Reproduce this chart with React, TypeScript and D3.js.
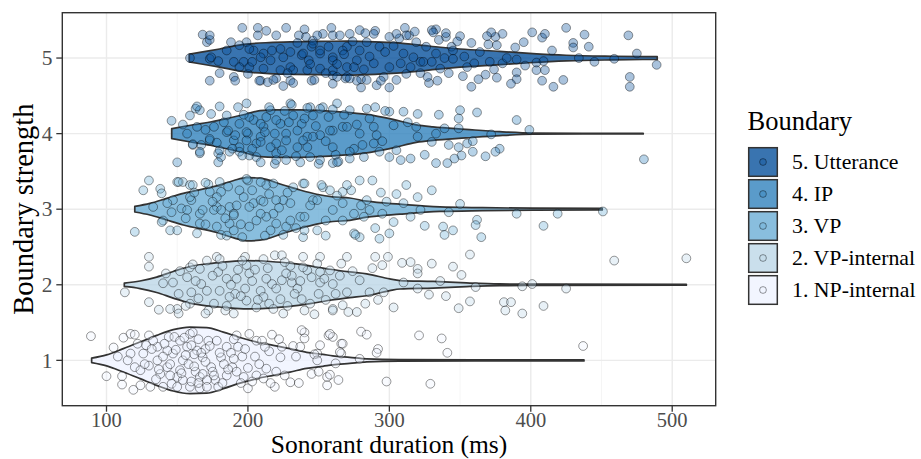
import React from "react";
import * as d3 from "d3";

// ---------- data ----------
const groupLabels = ["1. NP-internal", "2. VP-internal", "3. VP", "4. IP", "5. Utterance"];
const groupColors = ["#EFF3FF", "#BDD7E7", "#6BAED6", "#3182BD", "#08519C"];
const xTicks = [100, 200, 300, 400, 500];
const xMinorTicks = [150, 250, 350, 450];
const yTicks = [1, 2, 3, 4, 5];

// violin half-widths (in boundary units) along duration (ms)
const violinNP: [number, number][] = [[89.5,0.03],[100.1,0.073],[111.9,0.155],[123.7,0.242],[135.5,0.331],[147.2,0.406],[159,0.44],[170.8,0.434],[182.6,0.374],[194.4,0.302],[206.2,0.242],[217.9,0.198],[229.7,0.155],[241.5,0.106],[253,0.079],[260,0.06],[272,0.04],[284,0.02],[307,0.01],[360,0.008],[437.6,0.008]];
const violinVPi: [number, number][] = [[112.6,0.022],[123.7,0.05],[135.5,0.102],[147.2,0.176],[159,0.242],[170.8,0.278],[182.6,0.298],[199.1,0.32],[215.6,0.308],[229.7,0.287],[243.9,0.25],[258,0.205],[272,0.17],[284,0.145],[300.3,0.077],[307.5,0.056],[331,0.044],[354.5,0.024],[378,0.011],[410,0.008],[510,0.006]];
const violinVP: [number, number][] = [[120,0.037],[130.7,0.077],[142,0.14],[154.3,0.209],[177.9,0.308],[190,0.38],[199.1,0.419],[208.5,0.41],[225,0.32],[236.8,0.254],[248.6,0.198],[260,0.163],[272,0.148],[284,0.106],[307.5,0.066],[335.8,0.03],[366,0.02],[401.5,0.013],[450.5,0.01]];
const violinIP: [number, number][] = [[146.1,0.066],[161.4,0.117],[175,0.16],[185,0.2],[199,0.26],[208.5,0.305],[220,0.315],[236.7,0.313],[265,0.288],[284,0.254],[302.6,0.188],[319,0.116],[330.8,0.089],[354,0.057],[378,0.026],[401.5,0.008],[440,0.005],[479.5,0.005]];
const violinUtt: [number, number][] = [[158.5,0.05],[166,0.075],[180,0.12],[197,0.18],[215,0.205],[232,0.215],[250,0.22],[270,0.225],[290,0.215],[305,0.2],[320,0.175],[336,0.143],[350,0.12],[378,0.088],[399,0.062],[425,0.037],[458,0.024],[489.4,0.018]];

// jittered observations: [duration ms, vertical jitter]
const pointsNP: [number, number][] = [[89,0.32],[100,-0.21],[105,0.17],[111,-0.21],[111,-0.32],[112,0.30],[117,0.35],[120,0.34],[119,-0.39],[124,-0.33],[117,0.09],[120,-0.09],[126,0.09],[130,0.33],[130,-0.07],[131,-0.35],[136,0.18],[138,-0.18],[140,-0.35],[144,0.31],[148,0.31],[147,0.09],[150,-0.22],[146,-0.31],[154,0],[157,0.18],[159,0.35],[161,0.37],[163,-0.15],[159,-0.35],[166,-0.37],[168,0.04],[172,0.26],[174,-0.09],[177,-0.26],[178,0.26],[181,0.04],[185,0.18],[189,-0.09],[192,0.33],[193,0.18],[192,-0.15],[197,-0.22],[201,0.35],[206,0.26],[200,-0.37],[206,-0.20],[210,0.26],[211,-0.24],[213,-0.11],[217,0.34],[219,-0.35],[223,0.04],[224,0.18],[230,-0.29],[232,0.19],[237,0.18],[236,-0.30],[240,0.37],[240,0.29],[245,-0.18],[249,0.09],[256,-0.22],[256,-0.33],[257,0.33],[260,0.31],[262,-0.04],[264,-0.26],[266,0.22],[266,0.09],[136,0],[143,-0.09],[152,-0.13],[164,0.13],[166,-0.22],[152,0.26],[143,0.13],[171,-0.26],[171,-0.35],[179,-0.35],[185,-0.20],[150,-0.35],[154,-0.26],[133,0.26],[124,-0.13],[115,0],[238,0.40],[251,0.20],[258,0.35],[267,0.22],[280,0.38],[284,0.34],[292,0.15],[291,0.10],[265,0.11],[247,0.08],[249,0],[279,0.02],[321,0.33],[337,0.29],[341,0.10],[437,0.19],[250,-0.15],[258,-0.19],[298,-0.28],[329,-0.31],[140,0.05],[158,-0.05],[162,0.08],[170,0.15],[175,-0.15],[183,-0.05],[188,0.10],[196,0.05],[145,-0.20],[135,-0.25],[128,0.20],[155,0.30],[165,0.28],[190,0.28],[200,-0.10],[205,0.05],[215,0.12],[220,-0.15],[160,-0.28],[168,-0.18],[132,0.15],[137,-0.12],[141,0.22],[145,-0.05],[149,0.14],[153,-0.17],[156,0.07],[160,0.20],[162,-0.08],[165,-0.30],[167,0.10],[170,-0.02],[173,0.19],[176,-0.20],[180,0.10],[182,-0.30],[186,-0.12],[190,0.02],[195,-0.30],[198,0.15],[203,-0.28],[208,-0.05],[212,0.18],[216,-0.30],[222,0.28],[226,-0.20],[234,0.05],[127,-0.05],[122,0.22],[108,0.05]];
const pointsVPi: [number, number][] = [[130,0.37],[130,0.24],[113,-0.10],[130,-0.23],[137,-0.33],[140,0.02],[147,0.03],[151,-0.12],[150,-0.32],[151,-0.38],[159,0.23],[161,0.27],[157,0.10],[160,-0.10],[159,-0.25],[167,0.01],[171,-0.08],[172,-0.34],[170,-0.38],[178,0.37],[180,0.34],[179,0.17],[185,0.08],[192,0.08],[191,-0.12],[184,-0.34],[190,-0.38],[198,0.37],[199,0.26],[201,0.15],[198,-0.05],[199,-0.21],[209,-0.08],[206,-0.30],[211,0.34],[219,0.39],[224,0.39],[217,0.01],[223,-0.19],[225,-0.38],[231,0.03],[231,0.12],[239,0.37],[242,0.19],[238,-0.19],[240,-0.34],[251,0.37],[251,0.03],[250,-0.12],[247,-0.39],[260,0.01],[260,-0.32],[258,0.19],[266,0.28],[267,-0.27],[224,0.06],[211,-0.16],[187,-0.16],[180,-0.08],[171,0.32],[166,0.21],[145,-0.32],[270,0.37],[290,0.37],[299,0.37],[295,0.26],[309,0.29],[320,0.21],[320,0.15],[345,0.24],[351,0.13],[357,0.40],[336,0.05],[310,0.03],[320,-0.05],[328,-0.13],[361,-0.03],[394,-0.02],[401,0.01],[425,-0.05],[459,0.32],[510,0.35],[381,-0.23],[382,-0.34],[386,-0.23],[394,-0.38],[409,-0.28],[357,-0.22],[349,-0.31],[296,-0.10],[292,-0.20],[277,-0.36],[271,-0.36],[260,-0.34],[279,0.06],[270,-0.10],[286,-0.10],[251,0.17],[239,0.23],[175,0.12],[205,0.20],[215,-0.25],[235,-0.05],[245,0.10],[193,0.20],[230,0.25],[255,-0.20],[185,-0.28],[163,0.05],[213,0.08],[228,-0.28],[152,0.18],[165,-0.18],[176,-0.25],[182,0.25],[188,0.0],[195,-0.15],[203,0.05],[207,-0.20],[214,0.22],[220,-0.05],[227,0.15],[233,-0.12],[237,0.05],[244,-0.25],[249,0.28],[254,0.08],[262,-0.12],[265,0.12],[274,0.18],[283,-0.25],[288,0.22],[303,-0.30],[315,0.30],[330,0.28],[340,-0.15],[142,0.15],[156,-0.28],[196,0.32],[218,-0.32],[226,0.30]];
const pointsVP: [number, number][] = [[120,-0.30],[126,0.25],[130,0.38],[138,0.27],[139,0.21],[140,-0.15],[146,-0.04],[145,-0.28],[150,0.36],[154,0.36],[159,0.32],[160,0.12],[166,-0.06],[173,0.23],[180,0.36],[187,0.03],[194,0.25],[200,0.38],[204,0.08],[209,0.12],[213,0.32],[218,-0.06],[225,0.12],[232,0.29],[239,0.34],[246,0.12],[150,-0.28],[164,-0.32],[178,-0.23],[190,-0.28],[147,0.12],[133,0.03],[153,0.01],[178,0.03],[190,-0.06],[213,-0.10],[227,-0.23],[237,-0.10],[139,-0.17],[151,0.36],[161,0.32],[172,0.33],[181,0.23],[168,-0.01],[176,-0.01],[181,-0.01],[187,-0.19],[181,-0.34],[196,-0.37],[199,0.40],[209,0.36],[218,0.34],[201,-0.23],[209,-0.06],[211,0.10],[220,0.12],[225,-0.34],[253,0.29],[258,0.25],[249,0.12],[260,-0.01],[267,0.08],[240,-0.10],[249,-0.28],[239,-0.37],[267,-0.15],[230,-0.15],[197,0.16],[159,0.16],[157,-0.01],[166,-0.19],[178,0.16],[190,-0.08],[201,0.03],[230,0.08],[220,-0.19],[240,0.34],[252,0.32],[267,0.23],[273,0.25],[279,0.38],[288,0.38],[294,0.22],[305,0.20],[312,0.32],[320,0.16],[310,0.08],[284,0.12],[286,-0.01],[275,-0.06],[282,-0.10],[295,-0.06],[303,-0.17],[322,-0.01],[342,-0.04],[350,0.07],[390,-0.06],[419,-0.06],[451,-0.03],[409,-0.22],[362,-0.14],[361,-0.21],[338,-0.23],[339,-0.34],[365,-0.37],[325,-0.22],[300,-0.32],[293,-0.39],[279,-0.37],[275,-0.32],[240,-0.28],[276,-0.34],[143,0.08],[156,-0.12],[162,0.22],[170,-0.20],[175,0.10],[184,-0.12],[186,0.30],[192,0.05],[195,-0.20],[203,0.25],[206,-0.15],[215,0.20],[216,-0.28],[222,0.02],[228,0.22],[234,-0.25],[244,0.05],[255,-0.15],[263,0.18],[270,0.32],[280,0.05],[290,-0.25],[298,0.10],[315,-0.10],[330,0.25],[345,-0.28],[170,0.35],[185,-0.35],[212,-0.35],[255,-0.35]];
const pointsIP: [number, number][] = [[146,0.17],[154,0.12],[159,0.24],[163,0.33],[166,0.31],[164,0.09],[161,-0.15],[167,-0.15],[166,-0.26],[174,0.26],[180,0.36],[185,0.24],[179,-0.26],[181,-0.31],[179,-0.38],[185,0.02],[193,0.35],[199,0.40],[200,0],[194,-0.18],[201,-0.29],[219,-0.40],[230,0.40],[216,0.31],[223,0.13],[211,0.09],[209,-0.04],[220,-0.13],[235,-0.18],[242,-0.04],[238,0.13],[246,0.24],[244,-0.31],[237,-0.38],[227,-0.35],[206,-0.31],[190,-0.09],[173,-0.09],[157,0],[176,0.09],[194,0.13],[204,0.18],[213,0.22],[232,0.24],[227,0],[216,-0.18],[206,-0.13],[194,-0.24],[187,-0.24],[220,-0.26],[199,0.02],[244,0.35],[253,0.35],[263,0.40],[272,0.31],[284,0.33],[290,0.35],[300,0.29],[310,0.29],[320,0.26],[350,0.31],[349,0.20],[390,0.18],[399,0.05],[480,-0.34],[378,-0.20],[375,-0.24],[359,-0.24],[351,-0.29],[346,-0.33],[341,-0.39],[333,-0.39],[355,-0.13],[349,-0.18],[359,-0.10],[372,-0.01],[339,0.07],[349,0.07],[333,0],[330,-0.11],[320,-0.04],[319,0.09],[315,-0.33],[308,-0.35],[300,-0.31],[293,-0.24],[282,-0.31],[272,-0.33],[264,-0.37],[260,-0.39],[250,-0.40],[291,-0.02],[303,0.11],[289,0.09],[279,0],[267,0.09],[260,0.04],[251,-0.02],[260,-0.18],[275,-0.20],[289,-0.13],[239,-0.09],[242,-0.18],[150,-0.38],[166,-0.24],[161,-0.14],[164,0.36],[173,-0.07],[186,0.04],[180,-0.22],[189,-0.20],[196,-0.29],[209,-0.38],[220,-0.35],[231,0.38],[242,0.34],[251,0.33],[260,0.32],[201,0.22],[209,0.13],[220,0.18],[219,0],[235,0.04],[246,-0.04],[258,0.04],[270,0.09],[272,-0.24],[251,-0.35],[263,-0.38],[199,-0.09],[209,-0.11],[227,-0.09],[170,0.05],[178,-0.12],[183,0.15],[191,-0.02],[197,0.25],[203,-0.20],[212,0.02],[215,0.35],[224,-0.22],[229,0.15],[234,-0.30],[240,0.20],[248,0.10],[255,-0.10],[257,0.22],[262,-0.28],[268,0.25],[277,0.12],[281,-0.15],[286,0.20],[295,-0.10],[297,0.30],[305,-0.22],[313,0.15],[325,-0.28],[335,0.25],[342,-0.15],[362,0.28],[368,-0.30],[226,0.30]];
const pointsUtt: [number, number][] = [[425,0.40],[438,0.31],[441,0.15],[430,0.20],[430,0.14],[469,0.30],[475,0.06],[489,-0.09],[470,-0.25],[470,-0.38],[459,-0.01],[434,0],[423,-0.29],[416,-0.38],[408,-0.30],[410,-0.16],[404,-0.16],[404,-0.06],[409,-0.04],[408,0.27],[410,0.32],[401,0.34],[395,0.21],[389,0.14],[390,-0.02],[390,-0.19],[390,-0.28],[386,-0.34],[380,0.32],[375,0.28],[372,0.34],[369,0.29],[370,0.18],[376,0.17],[380,-0.07],[371,-0.05],[374,-0.15],[376,-0.26],[368,-0.22],[363,-0.28],[358,-0.38],[352,-0.24],[360,-0.07],[353,0.02],[358,0.20],[350,0.29],[344,0.15],[345,0.10],[340,0.28],[340,0.33],[333,0.38],[330,0.37],[335,0.24],[339,0],[336,-0.14],[334,-0.30],[328,-0.33],[330,-0.05],[322,-0.20],[322,-0.05],[319,0.21],[314,0.30],[311,0.40],[312,0.30],[307,0.26],[300,0.28],[300,-0.39],[291,-0.36],[290,0.36],[289,0.32],[280,-0.39],[280,-0.28],[270,-0.25],[260,-0.34],[245,-0.30],[259,0.40],[260,0.30],[265,0.30],[240,0.38],[241,0.28],[168,0.31],[171,0.21],[173,0.24],[173,-0.30],[180,-0.20],[188,0.21],[190,-0.25],[191,-0.30],[196,0.40],[199,0.21],[194,0.17],[200,-0.21],[207,0.40],[213,0.36],[207,0.30],[220,0.30],[227,0.40],[236,0.30],[209,-0.30],[214,-0.32],[220,-0.27],[225,-0.37],[230,-0.30],[232,-0.33],[173,-0.01],[190,-0.05],[197,-0.05],[204,0.10],[216,-0.03],[159,0],[179,-0.04],[230,-0.12],[243,-0.03],[238,0.04],[245,0.15],[246,0.23],[230,0.08],[225,0.01],[211,0.06],[194,-0.12],[232,-0.16],[173,0.30],[201,0.12],[209,0.01],[223,0.12],[239,0.06],[251,0.06],[260,0.01],[270,0.15],[277,-0.03],[201,-0.12],[211,-0.14],[223,-0.16],[242,-0.16],[251,-0.14],[260,-0.16],[270,-0.12],[208,-0.30],[218,-0.29],[247,-0.29],[260,-0.23],[269,-0.27],[277,-0.30],[174,0.01],[246,0.19],[251,0.10],[260,-0.03],[267,0.10],[275,-0.12],[279,0.10],[284,0.21],[289,-0.07],[293,0.15],[300,-0.12],[308,-0.07],[310,0.06],[312,-0.21],[317,0.01],[324,-0.05],[333,0.06],[345,-0.01],[263,-0.25],[272,-0.27],[284,-0.29],[296,-0.25],[305,-0.29],[253,0.32],[272,0.32],[279,0.37],[305,0.32],[331,0.34],[185,0.10],[203,-0.05],[217,0.10],[228,-0.20],[235,0.20],[244,-0.08],[249,0.30],[255,-0.20],[257,0.15],[263,-0.08],[268,0.05],[274,0.22],[282,-0.15],[286,0.02],[294,-0.30],[297,0.08],[303,0.16],[315,-0.12],[318,0.35],[326,0.15],[327,-0.25],[342,-0.20],[348,0.22],[355,-0.12],[364,0.08],[383,0.0],[396,-0.10],[415,0.10],[445,-0.05],[283,0.33]];

const violins = [violinNP, violinVPi, violinVP, violinIP, violinUtt];
const pointSets = [pointsNP, pointsVPi, pointsVP, pointsIP, pointsUtt];

// ---------- layout ----------
const W = 921;
const H = 459;
const PL = 62.3, PR = 715.7, PT = 12.7, PB = 405.7;
const FONT = "'Liberation Serif', 'DejaVu Serif', serif";

export default function App() {
  const x = d3.scaleLinear().domain([68.75, 530.75]).range([PL, PR]);
  const y = d3.scaleLinear().domain([0.4, 5.6]).range([PB, PT]);

  const violinPath = (data: [number, number][], level: number) =>
    d3
      .area<[number, number]>()
      .x((d) => x(d[0]))
      .y0((d) => y(level - d[1]))
      .y1((d) => y(level + d[1]))
      .curve(d3.curveMonotoneX)(data) || "";

  const legendOrder = [4, 3, 2, 1, 0];

  return (
    <svg
      width={W}
      height={H}
      viewBox={`0 0 ${W} ${H}`}
      style={{ position: "absolute", left: 0, top: 0, display: "block", background: "#fff" }}
      fontFamily={FONT}
    >
      <defs>
        <clipPath id="panel">
          <rect x={PL} y={PT} width={PR - PL} height={PB - PT} />
        </clipPath>
      </defs>
      <rect x={0} y={0} width={W} height={H} fill="#fff" />
      {/* grid */}
      <g>
        {xMinorTicks.map((t) => (
          <line key={"xm" + t} x1={x(t)} x2={x(t)} y1={PT} y2={PB} stroke="#F3F3F3" strokeWidth={0.8} />
        ))}
        {xTicks.map((t) => (
          <line key={"xg" + t} x1={x(t)} x2={x(t)} y1={PT} y2={PB} stroke="#EBEBEB" strokeWidth={1.4} />
        ))}
        {yTicks.map((t) => (
          <line key={"yg" + t} x1={PL} x2={PR} y1={y(t)} y2={y(t)} stroke="#EBEBEB" strokeWidth={1.4} />
        ))}
      </g>
      <g clipPath="url(#panel)">
        {violins.map((v, i) => (
          <path
            key={"v" + i}
            d={violinPath(v, i + 1)}
            fill={groupColors[i]}
            fillOpacity={0.8}
            stroke="#333333"
            strokeWidth={1.7}
            strokeLinejoin="round"
          />
        ))}
        {pointSets.map((pts, i) =>
          pts.map((p, j) => (
            <circle
              key={"p" + i + "-" + j}
              cx={x(p[0])}
              cy={y(i + 1 + p[1])}
              r={4.4}
              fill={groupColors[i]}
              fillOpacity={0.35}
              stroke="#000"
              strokeOpacity={0.4}
              strokeWidth={1}
            />
          ))
        )}
      </g>
      {/* panel border */}
      <rect x={PL} y={PT} width={PR - PL} height={PB - PT} fill="none" stroke="#333333" strokeWidth={1.4} />
      {/* x axis */}
      {xTicks.map((t) => (
        <g key={"xt" + t}>
          <line x1={x(t)} x2={x(t)} y1={PB} y2={PB + 6} stroke="#333333" strokeWidth={1.3} />
          <text x={x(t)} y={426.8} textAnchor="middle" fontSize={20.5} fill="#4D4D4D">
            {t}
          </text>
        </g>
      ))}
      {/* y axis */}
      {yTicks.map((t) => (
        <g key={"yt" + t}>
          <line x1={PL - 6} x2={PL} y1={y(t)} y2={y(t)} stroke="#333333" strokeWidth={1.3} />
          <text x={52.5} y={y(t) + 7.2} textAnchor="end" fontSize={21.5} fill="#4D4D4D">
            {t}
          </text>
        </g>
      ))}
      <text x={(PL + PR) / 2} y={453.3} textAnchor="middle" fontSize={25.5} fill="#000">
        Sonorant duration (ms)
      </text>
      <text
        transform={`translate(33.3,${(PT + PB) / 2}) rotate(-90)`}
        textAnchor="middle"
        fontSize={28.5}
        fill="#000"
      >
        Boundary strength
      </text>
      {/* legend */}
      <text x={747.5} y={129.5} fontSize={26.5} fill="#000">
        Boundary
      </text>
      {legendOrder.map((gi, k) => {
        const ky = 147 + k * 32;
        return (
          <g key={"lg" + gi}>
            <rect x={748} y={ky} width={30} height={30} fill="#fff" />
            <rect
              x={748.7}
              y={ky + 0.7}
              width={28.6}
              height={28.6}
              fill={groupColors[gi]}
              fillOpacity={0.8}
              stroke="#333333"
              strokeWidth={1.5}
            />
            <circle
              cx={763}
              cy={ky + 15}
              r={3.4}
              fill={groupColors[gi]}
              fillOpacity={0.35}
              stroke="#000"
              strokeOpacity={0.4}
              strokeWidth={1}
            />
            <text x={792} y={ky + 22} fontSize={21.8} fill="#000">
              {groupLabels[gi]}
            </text>
          </g>
        );
      })}
    </svg>
  );
}
